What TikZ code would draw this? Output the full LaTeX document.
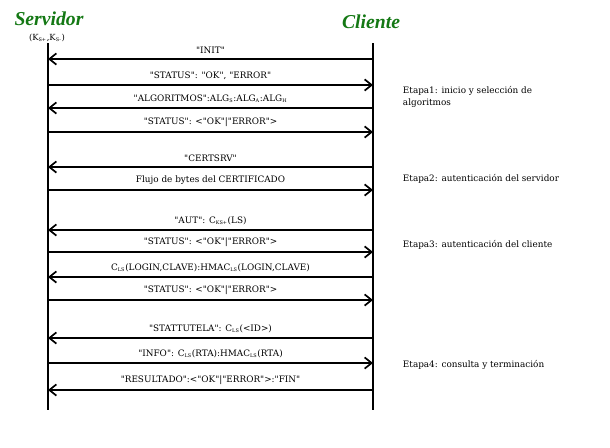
\documentclass[tikz,border=0pt]{standalone}
\usepackage{fontspec}
\setmainfont{DejaVu Serif}[Ligatures=TeXOff]
\newfontfamily\titlefont{Liberation Serif}
\usetikzlibrary{arrows.meta}
\definecolor{titlegreen}{RGB}{20,120,20}
\newcommand{\ix}[1]{\textsubscript{\fontsize{3.5pt}{4pt}\selectfont #1}}
\begin{document}
\begin{tikzpicture}[x=0.025cm,y=-0.025cm,
	title/.style={font=\titlefont\fontsize{14}{16}\selectfont\bfseries\itshape,text=titlegreen},
	life/.style={line width=1.3pt},
	msg/.style={line width=1.2pt},
	toserver/.style={{Straight Barb[length=5pt,width=8pt]}-},
	toclient/.style={-{Straight Barb[length=5pt,width=8pt]}},
	lbl/.style={midway,above=2.5pt,inner sep=0.5pt,font=\fontsize{6.3}{7}\selectfont},
	stage/.style={anchor=west,align=left,font=\fontsize{6.3}{8}\selectfont}]
	\useasboundingbox (0,0) rectangle (610,447);
	\node[title] (srv) at (49,19) {Servidor};
	\node[title] (cli) at (371,22) {Cliente};
	\node[font=\fontsize{6}{7}\selectfont] (keys) at (47,38) {(K\ix{S+},K\ix{S-})};
	\coordinate (srvtop) at (48,43);
	\coordinate (srvbot) at (48,410);
	\coordinate (clitop) at (373,43);
	\coordinate (clibot) at (373,410);
	\draw[life] (srvtop) -- (srvbot);
	\draw[life] (clitop) -- (clibot);
	\foreach \y/\d/\txt [count=\i] in {
		59/toserver/{"INIT"},
		85/toclient/{"STATUS": "OK", "ERROR"},
		108/toserver/{"ALGORITMOS":ALG\ix{S}:ALG\ix{A}:ALG\ix{H}},
		132/toclient/{"STATUS": <"OK"|"ERROR">},
		167/toserver/{"CERTSRV"},
		190/toclient/{Flujo de bytes del CERTIFICADO},
		230/toserver/{"AUT": C\ix{KS+}(LS)},
		252/toclient/{"STATUS": <"OK"|"ERROR">},
		277/toserver/{C\ix{LS}(LOGIN,CLAVE):HMAC\ix{LS}(LOGIN,CLAVE)},
		300/toclient/{"STATUS": <"OK"|"ERROR">},
		338/toserver/{"STATTUTELA": C\ix{LS}(<ID>)},
		363/toclient/{"INFO": C\ix{LS}(RTA):HMAC\ix{LS}(RTA)},
		390/toserver/{"RESULTADO":<"OK"|"ERROR">:"FIN"}} {
		\coordinate (s\i) at (48,\y);
		\coordinate (c\i) at (373,\y);
		\draw[msg,\d] (s\i) -- node[lbl] {\txt} (c\i);
	}
	% etapas
	\node[stage] (et1) at (398,97) {Etapa1: inicio y selección de\\algoritmos};
	\node[stage] (et2) at (398,179) {Etapa2: autenticación del servidor};
	\node[stage] (et3) at (398,245) {Etapa3: autenticación del cliente};
	\node[stage] (et4) at (398,365) {Etapa4: consulta y terminación};
\end{tikzpicture}
\end{document}
